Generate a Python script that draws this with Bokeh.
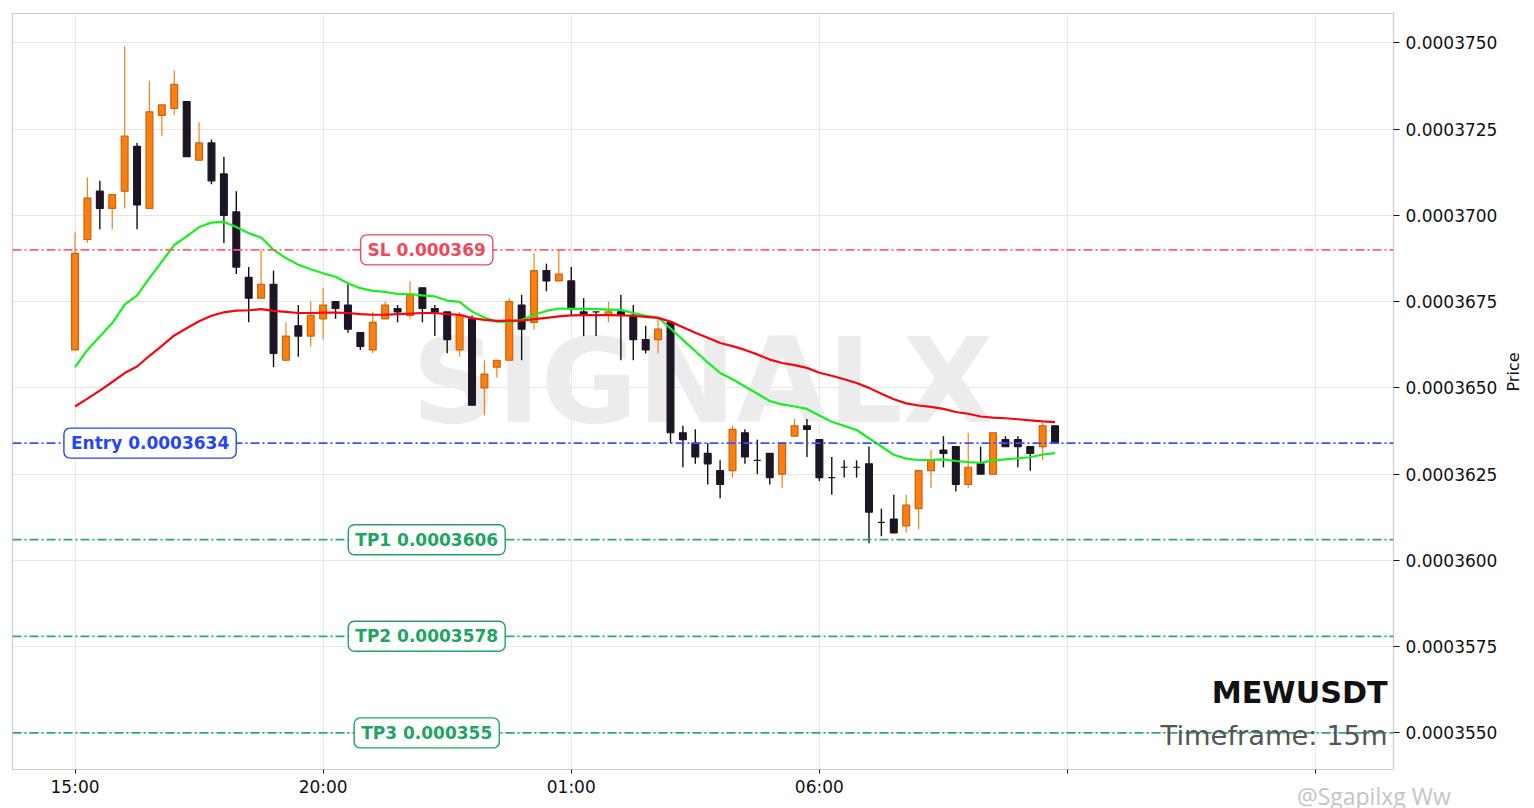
import math
from bokeh.plotting import figure
from bokeh.models import Range1d, ColumnDataSource, FixedTicker, PrintfTickFormatter, Span, Label, LinearAxis
from bokeh.embed import file_html
from bokeh.resources import INLINE

UNIT = 1e-7  # all series are listed in units of 0.0000001

opens = [3661,3693,3707,3702,3707,3720,3702,3729,3731,3733,3716,3721,3712,3701,3682,3676,3680,3658,3668,3665,
         3670,3675,3674,3666,3661,3670,3673,3671,3679,3673,3672,3661,3670,3650,3656,3658,3674,3669,3684,3681,
         3681,3672,3672,3671,3672,3671,3664,3664,3669,3637,3634,3631,3626,3626,3637,3629,3631,3625,3636,3639,
         3635,3624,3627,3627,3628,3611,3612,3610,3615,3626,3632,3633,3622,3628,3625,3635,3635,3633,3633,3639]
highs = [3695,3711,3710,3706,3749,3721,3739,3732,3742,3733,3727,3722,3717,3707,3685,3690,3684,3669,3674,3675,
         3679,3675,3680,3666,3672,3675,3674,3681,3679,3674,3672,3672,3671,3658,3658,3676,3677,3689,3686,3690,
         3685,3676,3672,3675,3677,3674,3668,3670,3669,3639,3638,3634,3629,3639,3638,3635,3631,3634,3641,3641,
         3635,3630,3629,3629,3633,3615,3619,3619,3626,3632,3636,3633,3637,3633,3637,3636,3636,3633,3640,3639]
lows = [3661,3692,3696,3696,3702,3696,3702,3723,3729,3717,3716,3709,3692,3683,3669,3676,3656,3658,3659,3662,
        3664,3670,3666,3661,3660,3670,3669,3670,3669,3665,3660,3659,3645,3642,3653,3658,3658,3667,3678,3681,
        3671,3665,3665,3669,3658,3658,3660,3660,3634,3627,3628,3622,3618,3624,3628,3625,3622,3621,3636,3630,
        3623,3619,3624,3624,3605,3607,3608,3608,3609,3621,3627,3620,3621,3625,3625,3633,3627,3626,3629,3634]
closes = [3689,3705,3702,3706,3723,3703,3730,3732,3738,3717,3721,3710,3700,3685,3676,3680,3660,3665,3665,3671,
          3674,3673,3667,3662,3669,3674,3672,3677,3673,3672,3664,3671,3645,3654,3658,3675,3667,3684,3681,3683,
          3673,3671,3672,3672,3671,3664,3661,3667,3637,3635,3630,3628,3622,3638,3630,3629,3624,3634,3639,3638,
          3624,3624,3627,3627,3614,3611,3608,3616,3626,3629,3631,3622,3627,3625,3637,3633,3633,3631,3639,3634]
ema_fast = [3656.0,3661.0,3664.9,3668.8,3674.1,3676.8,3681.8,3686.6,3691.4,3693.9,3696.6,3697.9,3698.1,3696.6,3694.8,3693.6,
            3690.0,3687.6,3685.7,3684.4,3683.2,3682.2,3680.3,3678.9,3678.1,3677.8,3677.2,3677.2,3676.8,3676.5,3675.3,3674.9,
            3672.1,3670.4,3669.2,3669.1,3669.7,3671.2,3672.3,3673.0,3672.9,3672.9,3672.8,3672.7,3672.6,3671.7,3670.9,3670.4,
            3667.2,3663.9,3660.6,3657.4,3654.3,3652.5,3650.4,3648.3,3646.2,3645.2,3644.6,3643.9,3642.0,3640.2,3639.0,3637.8,
            3635.4,3633.0,3630.6,3629.5,3629.1,3629.1,3629.3,3628.8,3628.5,3628.3,3629.0,3629.3,3629.6,3629.9,3630.7,3631.1]
ema_slow = [3644.6,3646.9,3649.2,3651.7,3654.3,3656.2,3659.3,3662.2,3665.2,3667.3,3669.3,3670.9,3671.9,3672.4,3672.5,3672.8,
            3672.3,3672.0,3671.7,3671.7,3671.8,3671.8,3671.7,3671.4,3671.2,3671.2,3671.4,3671.5,3671.7,3671.7,3671.4,3671.2,
            3670.2,3669.7,3669.4,3669.5,3669.5,3669.9,3670.3,3670.7,3671.0,3671.1,3671.1,3671.1,3671.0,3670.9,3670.6,3670.3,
            3669.2,3667.6,3666.0,3664.5,3663.0,3662.1,3661.0,3659.7,3658.2,3657.2,3656.6,3655.8,3654.4,3653.5,3652.5,3651.4,
            3650.0,3648.3,3646.7,3645.5,3644.9,3644.5,3643.9,3643.0,3642.5,3641.7,3641.4,3641.2,3640.9,3640.6,3640.3,3640.1]

x_ticks = [0, 20, 40, 60, 80, 100]
x_tick_labels = ["15:00", "20:00", "01:00", "06:00", "", ""]
y_ticks = [0.000355, 0.0003575, 0.00036, 0.0003625, 0.000365, 0.0003675, 0.00037, 0.0003725, 0.000375]

levels = [("SL 0.000369", 0.000369, 28.35, "#ff5f70", "#f0475a"),
          ("Entry 0.0003634", 0.0003634, 6.05, "#3355ff", "#2546f0"),
          ("TP1 0.0003606", 0.0003606, 28.35, "#2fa86f", "#1fa463"),
          ("TP2 0.0003578", 0.0003578, 28.35, "#2fa86f", "#1fa463"),
          ("TP3 0.000355", 0.000355, 28.35, "#2fa86f", "#1fa463")]

FONT = "DejaVu Sans"
UP_FILL, UP_EDGE, UP_WICK = "#ff7f0e", "#c8620c", "#f5801a"
DN_FILL, DN_EDGE, DN_WICK = "#1d1526", "#1d1526", "#111111"

p = figure(width=1526, height=800, frame_width=1381, frame_height=756,
           min_border_left=12, min_border_top=13, min_border_bottom=0, min_border_right=5,
           x_range=Range1d(-5.04, 106.28), y_range=Range1d(3539.4 * UNIT, 3758.5 * UNIT),
           output_backend="svg", toolbar_location=None, y_axis_location="right",
           background_fill_color="white", border_fill_color="white")

p.outline_line_color = "#cccccc"
p.outline_line_width = 1.2
p.xgrid.grid_line_color = "#e6e6e6"
p.ygrid.grid_line_color = "#e6e6e6"
p.xgrid.ticker = FixedTicker(ticks=x_ticks)
p.ygrid.ticker = FixedTicker(ticks=y_ticks)

xa = p.xaxis[0]
xa.ticker = FixedTicker(ticks=x_ticks)
xa.major_label_overrides = dict(zip(x_ticks, x_tick_labels))
ya = p.yaxis[0]
ya.ticker = FixedTicker(ticks=y_ticks)
ya.formatter = PrintfTickFormatter(format="%.7f")
ya.axis_label = "Price"
ya.axis_label_text_font = FONT
ya.axis_label_text_font_size = "16px"
ya.axis_label_text_font_style = "normal"
ya.axis_label_text_color = "#111111"
ya.axis_label_standoff = 13
ya.axis_label_orientation = math.pi / 2
ya.axis_label_text_align = "center"
ya.axis_label_text_baseline = "middle"
for a in (xa, ya):
    a.axis_line_color = None
    a.major_tick_line_color = "#111111"
    a.major_tick_in = 0
    a.minor_tick_line_color = None
    a.major_label_text_font = FONT
    a.major_label_text_font_size = "17px"
    a.major_label_text_color = "#111111"
xa.major_tick_out = 4
xa.major_label_standoff = 3
ya.major_tick_out = 6
ya.major_label_standoff = 6

p.add_layout(Label(x=50.6, y=3652 * UNIT, text="SIGNALX", text_font=FONT, text_font_size="118px",
                   text_font_style="bold", text_color="#ececec", text_align="center",
                   text_baseline="middle", level="underlay"))

idx = list(range(len(opens)))
rows = lambda keep: ColumnDataSource(dict(
    x=[i for i in idx if keep(i)],
    o=[opens[i] * UNIT for i in idx if keep(i)],
    h=[highs[i] * UNIT for i in idx if keep(i)],
    l=[lows[i] * UNIT for i in idx if keep(i)],
    c=[closes[i] * UNIT for i in idx if keep(i)]))
up = rows(lambda i: closes[i] > opens[i])
dn = rows(lambda i: closes[i] <= opens[i])

p.segment("x", "l", "x", "h", source=up, line_color=UP_WICK, line_width=1.2)
p.segment("x", "l", "x", "h", source=dn, line_color=DN_WICK, line_width=1.4)
p.vbar("x", 0.55, "o", "c", source=up, fill_color=UP_FILL, line_color=UP_EDGE, line_width=1.2)
p.vbar("x", 0.55, "o", "c", source=dn, fill_color=DN_FILL, line_color=DN_EDGE, line_width=1.2)

p.line(idx, [v * UNIT for v in ema_fast], line_color="#16f01e", line_width=2.2)
p.line(idx, [v * UNIT for v in ema_slow], line_color="#f5060f", line_width=2.2)

for text, price, at, line_col, text_col in levels:
    p.add_layout(Span(location=price, dimension="width", line_color=line_col, line_width=1.8,
                      line_dash="9 3 2 3"))
    p.add_layout(Label(x=at, y=price, text=text, text_font=FONT, text_font_size="17px",
                       text_font_style="bold", text_color=text_col, text_align="center",
                       text_baseline="middle", background_fill_color="white",
                       border_line_color=text_col, border_line_width=1.4,
                       padding=(7, 5), border_radius=6))

p.add_layout(Label(x=105.8, y=3561.6 * UNIT, text="MEWUSDT", text_font=FONT, text_font_size="30.2px",
                   text_font_style="bold", text_color="#111111", text_align="right", text_baseline="middle"))
p.add_layout(Label(x=105.8, y=3549.3 * UNIT, text="Timeframe: 15m", text_font=FONT, text_font_size="27.3px",
                   text_color="#555555", text_align="right", text_baseline="middle"))

mark = LinearAxis(ticker=FixedTicker(ticks=[104.7]), major_label_overrides={104.7: "@Sgapilxg Ww"},
                  axis_line_color=None, major_tick_line_color=None, minor_tick_line_color=None,
                  major_tick_in=0, major_tick_out=0, major_label_standoff=-20,
                  major_label_text_font="Open Sans", major_label_text_font_size="23px",
                  major_label_text_color="#c4c4c4", major_label_text_align="left")
p.add_layout(mark, "below")

open("out.html", "w").write(file_html(p, INLINE))
